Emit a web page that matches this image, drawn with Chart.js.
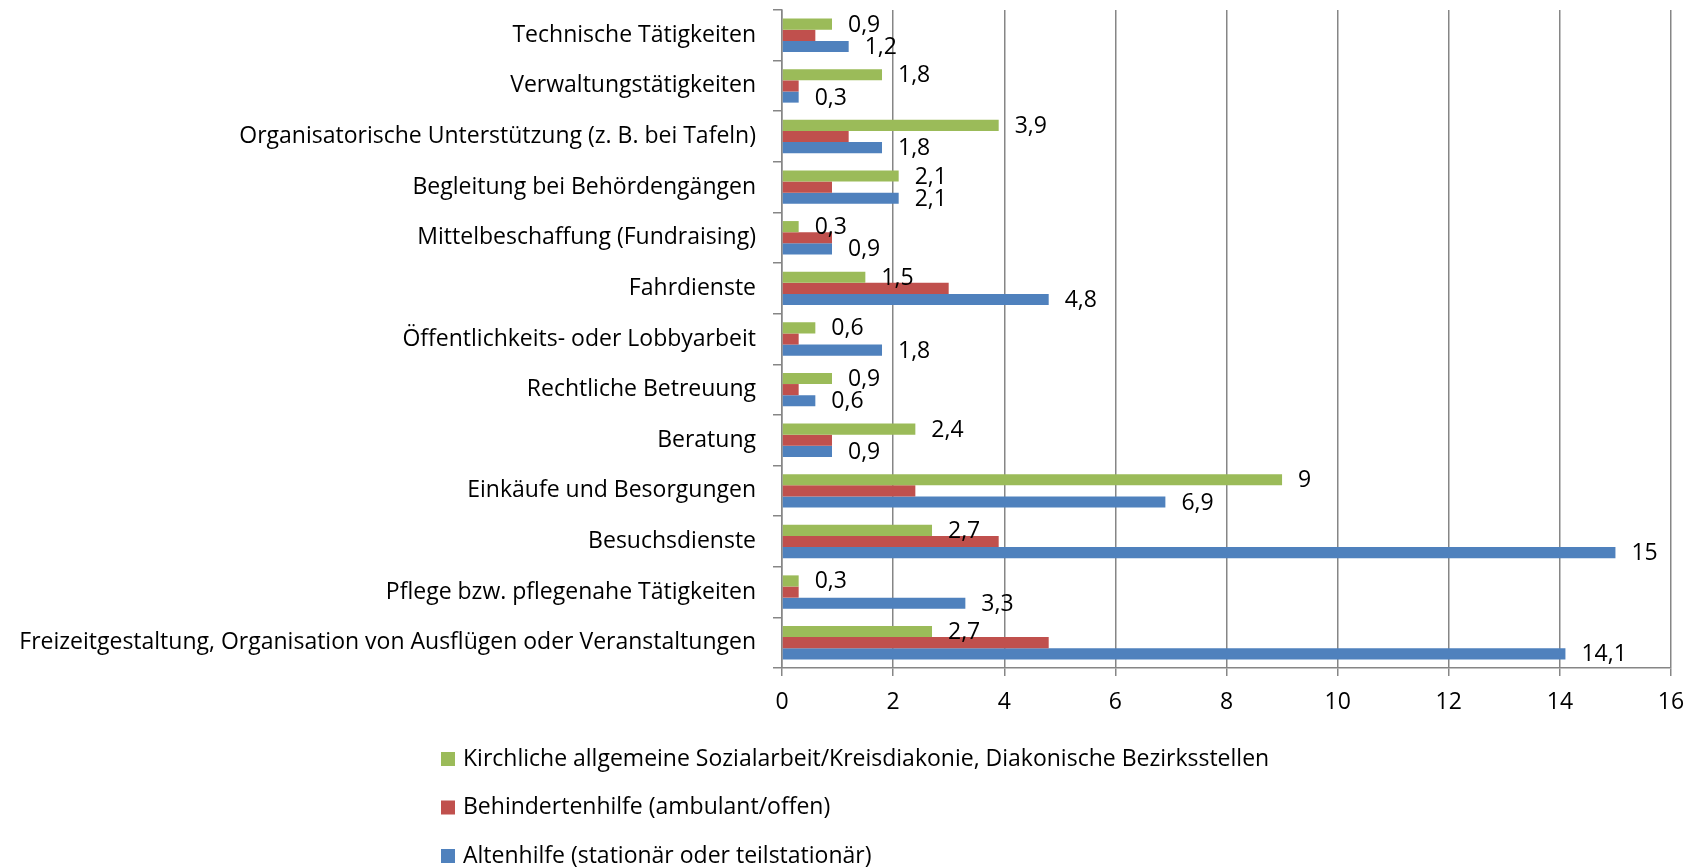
<!DOCTYPE html>
<html>
<head>
<meta charset="utf-8">
<script src="https://cdn.jsdelivr.net/npm/chart.js@4.4.1/dist/chart.umd.min.js"></script>
<style>
  html, body { margin: 0; padding: 0; background: #fff; }
  #wrap { width: 1700px; height: 867px; }
</style>
</head>
<body>
<div id="wrap"><canvas id="chart"></canvas></div>
<script>
const categories = [
  'Technische Tätigkeiten',
  'Verwaltungstätigkeiten',
  'Organisatorische Unterstützung (z. B. bei Tafeln)',
  'Begleitung bei Behördengängen',
  'Mittelbeschaffung (Fundraising)',
  'Fahrdienste',
  'Öffentlichkeits- oder Lobbyarbeit',
  'Rechtliche Betreuung',
  'Beratung',
  'Einkäufe und Besorgungen',
  'Besuchsdienste',
  'Pflege bzw. pflegenahe Tätigkeiten',
  'Freizeitgestaltung, Organisation von Ausflügen oder Veranstaltungen'
];

const seriesNames = [
  'Kirchliche allgemeine Sozialarbeit/Kreisdiakonie, Diakonische Bezirksstellen',
  'Behindertenhilfe (ambulant/offen)',
  'Altenhilfe (stationär oder teilstationär)'
];

const kirchliche = [0.9, 1.8, 3.9, 2.1, 0.3, 1.5, 0.6, 0.9, 2.4, 9, 2.7, 0.3, 2.7];
const behindertenhilfe = [0.6, 0.3, 1.2, 0.9, 0.9, 3.0, 0.3, 0.3, 0.9, 2.4, 3.9, 0.3, 4.8];
const altenhilfe = [1.2, 0.3, 1.8, 2.1, 0.9, 4.8, 1.8, 0.6, 0.9, 6.9, 15, 3.3, 14.1];

const xTicks = [0, 2, 4, 6, 8, 10, 12, 14, 16];

const FONT = '"Open Sans"';
const FSIZE = 23;
const gridGrey = '#868686';

// value labels right of the bar end (not for the red series)
const barLabels = {
  id: 'barLabels',
  afterDatasetsDraw(chart) {
    const ctx = chart.ctx;
    ctx.save();
    ctx.font = FSIZE + 'px ' + FONT;
    ctx.fillStyle = '#000';
    ctx.textAlign = 'left';
    ctx.textBaseline = 'middle';
    chart.data.datasets.forEach((ds, i) => {
      if (!ds.showValues) return;
      chart.getDatasetMeta(i).data.forEach((bar, j) => {
        const txt = ds.data[j].toLocaleString('de-DE');
        ctx.fillText(txt, bar.x + 16, bar.y + 1);
      });
    });
    ctx.restore();
  }
};

// legend as a vertical list under the axis
const listLegend = {
  id: 'listLegend',
  afterDraw(chart) {
    const ctx = chart.ctx;
    const top = chart.chartArea.bottom + 91;
    ctx.save();
    ctx.font = FSIZE + 'px ' + FONT;
    ctx.textBaseline = 'middle';
    ctx.textAlign = 'left';
    chart.data.datasets.forEach((ds, i) => {
      const y = top + i * 48.5;
      ctx.fillStyle = ds.backgroundColor;
      ctx.fillRect(441, y - 7, 14, 14);
      ctx.fillStyle = '#000';
      ctx.fillText(ds.label, 463, y);
    });
    ctx.restore();
  }
};

new Chart(document.getElementById('chart'), {
  type: 'bar',
  data: {
    labels: categories,
    datasets: [
      { label: seriesNames[0], data: kirchliche, backgroundColor: '#9BBB59', showValues: true },
      { label: seriesNames[1], data: behindertenhilfe, backgroundColor: '#C0504D', showValues: false },
      { label: seriesNames[2], data: altenhilfe, backgroundColor: '#4F81BD', showValues: true }
    ]
  },
  plugins: [barLabels, listLegend],
  options: {
    indexAxis: 'y',
    responsive: true,
    maintainAspectRatio: false,
    animation: false,
    datasets: { bar: { categoryPercentage: 0.66, barPercentage: 1.0 } },
    layout: { padding: { left: 0, top: 10, right: 29, bottom: 0 } },
    plugins: {
      legend: { display: false },
      tooltip: { enabled: false }
    },
    scales: {
      x: {
        min: 0,
        max: 16,
        afterBuildTicks(scale) { scale.ticks = xTicks.map(v => ({ value: v })); },
        afterFit(scale) { scale.height = 199; },
        grid: { color: gridGrey, lineWidth: 1.5, tickLength: 8 },
        border: { color: gridGrey, width: 1.5 },
        ticks: { color: '#000', font: { family: FONT, size: FSIZE }, padding: 13 }
      },
      y: {
        afterFit(scale) {
          scale.width = 782;
          scale.paddingTop = 0;
          scale.paddingBottom = 0;
        },
        grid: { drawOnChartArea: false, offset: true, color: gridGrey, lineWidth: 1.5, tickLength: 9 },
        border: { color: gridGrey, width: 1.5 },
        ticks: { color: '#000', font: { family: FONT, size: FSIZE }, padding: 17, autoSkip: false }
      }
    }
  }
});
</script>
</body>
</html>
